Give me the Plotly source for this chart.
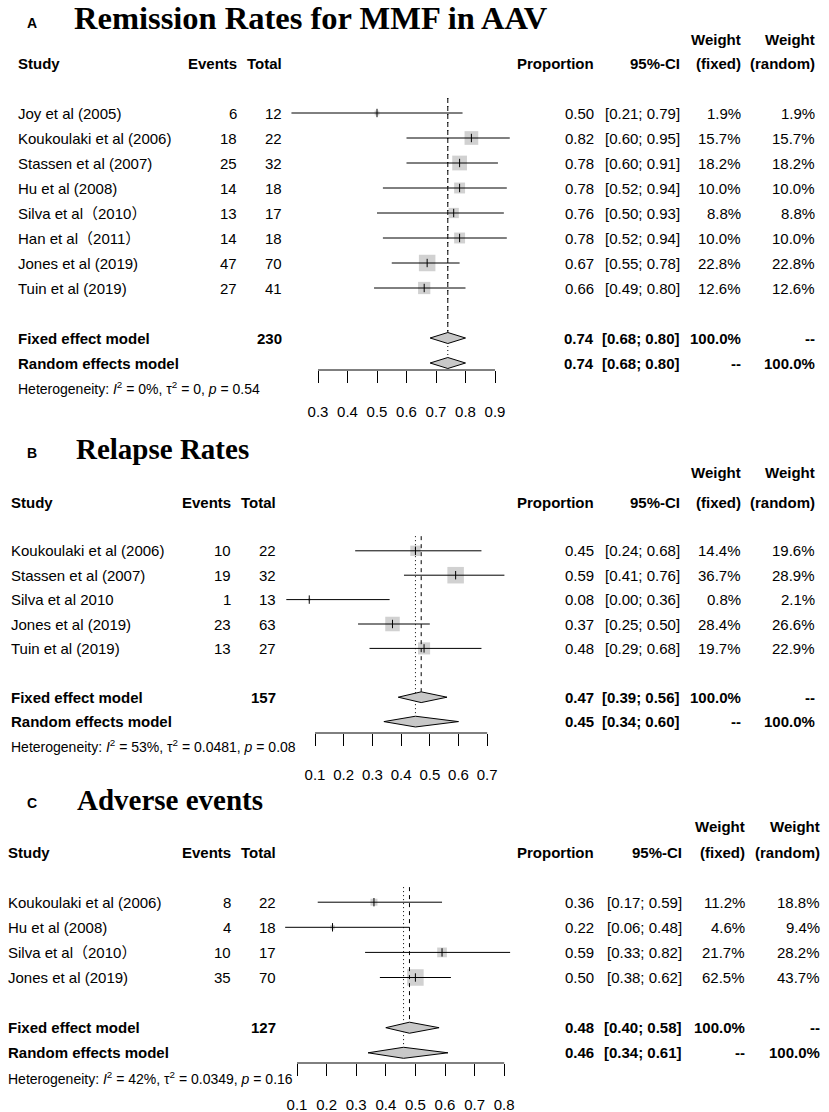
import plotly.graph_objects as go

# ---------------- data ----------------
A_title = "Remission Rates for MMF in AAV"
A_study = ["Joy et al (2005)", "Koukoulaki et al (2006)", "Stassen et al (2007)",
           "Hu et al (2008)", "Silva et al（2010）", "Han et al（2011）",
           "Jones et al (2019)", "Tuin et al (2019)"]
A_events = [6, 18, 25, 14, 13, 14, 47, 27]
A_total = [12, 22, 32, 18, 17, 18, 70, 41]
A_prop = [0.50, 0.82, 0.78, 0.78, 0.76, 0.78, 0.67, 0.66]
A_lower = [0.21, 0.60, 0.60, 0.52, 0.50, 0.52, 0.55, 0.49]
A_upper = [0.79, 0.95, 0.91, 0.94, 0.93, 0.94, 0.78, 0.80]
A_w_fixed = [1.9, 15.7, 18.2, 10.0, 8.8, 10.0, 22.8, 12.6]
A_w_random = [1.9, 15.7, 18.2, 10.0, 8.8, 10.0, 22.8, 12.6]
A_fixed = [0.74, 0.68, 0.80]
A_random = [0.74, 0.68, 0.80]
A_het = ["0%", "0", "0.54"]
A_ticks = [0.3, 0.4, 0.5, 0.6, 0.7, 0.8, 0.9]

B_title = "Relapse Rates"
B_study = ["Koukoulaki et al (2006)", "Stassen et al (2007)", "Silva et al 2010",
           "Jones et al (2019)", "Tuin et al (2019)"]
B_events = [10, 19, 1, 23, 13]
B_total = [22, 32, 13, 63, 27]
B_prop = [0.45, 0.59, 0.08, 0.37, 0.48]
B_lower = [0.24, 0.41, 0.00, 0.25, 0.29]
B_upper = [0.68, 0.76, 0.36, 0.50, 0.68]
B_w_fixed = [14.4, 36.7, 0.8, 28.4, 19.7]
B_w_random = [19.6, 28.9, 2.1, 26.6, 22.9]
B_fixed = [0.47, 0.39, 0.56]
B_random = [0.45, 0.34, 0.60]
B_het = ["53%", "0.0481", "0.08"]
B_ticks = [0.1, 0.2, 0.3, 0.4, 0.5, 0.6, 0.7]

C_title = "Adverse events"
C_study = ["Koukoulaki et al (2006)", "Hu et al (2008)", "Silva et al（2010）",
           "Jones et al (2019)"]
C_events = [8, 4, 10, 35]
C_total = [22, 18, 17, 70]
C_prop = [0.36, 0.22, 0.59, 0.50]
C_lower = [0.17, 0.06, 0.33, 0.38]
C_upper = [0.59, 0.48, 0.82, 0.62]
C_w_fixed = [11.2, 4.6, 21.7, 62.5]
C_w_random = [18.8, 9.4, 28.2, 43.7]
C_fixed = [0.48, 0.40, 0.58]
C_random = [0.46, 0.34, 0.61]
C_het = ["42%", "0.0349", "0.16"]
C_ticks = [0.1, 0.2, 0.3, 0.4, 0.5, 0.6, 0.7, 0.8]

# ---------------- style / layout ----------------
W, H = 829, 1112
FONT = "Liberation Sans, Arial, Noto Sans CJK SC, sans-serif"
SERIF = "Liberation Serif, Times New Roman, serif"
TXT = 15
HET = 14
BOX_MAX = 16.5
DIA_H = 0.22
SQ_COL = "#bebebe"
DIA_COL = "#c8c8c8"

panels = [
    dict(letter="A", title=A_title, study=A_study, events=A_events, total=A_total,
         prop=A_prop, lo=A_lower, hi=A_upper, wf=A_w_fixed, wr=A_w_random,
         fixed=A_fixed, random=A_random, het=A_het, ticks=A_ticks,
         title_x=73, title_mid=18.5, title_size=32.5, letter_y=23, weight_row=-0.95,
         header_px=63, pitch=25.0, axis_px=370, top_px=0, bottom_px=400,
         tick_p0=318, scale=295.0,
         cols=dict(study=17, events=238, total=283, prop=595, ci=681, wf=742, wr=816)),
    dict(letter="B", title=B_title, study=B_study, events=B_events, total=B_total,
         prop=B_prop, lo=B_lower, hi=B_upper, wf=B_w_fixed, wr=B_w_random,
         fixed=B_fixed, random=B_random, het=B_het, ticks=B_ticks,
         title_x=75, title_mid=448.5, title_size=29, letter_y=453, weight_row=-1.2,
         header_px=502, pitch=24.4, axis_px=733, top_px=420, bottom_px=765,
         tick_p0=315, scale=287.0,
         cols=dict(study=10, events=232, total=277, prop=595, ci=681, wf=742, wr=816)),
    dict(letter="C", title=C_title, study=C_study, events=C_events, total=C_total,
         prop=C_prop, lo=C_lower, hi=C_upper, wf=C_w_fixed, wr=C_w_random,
         fixed=C_fixed, random=C_random, het=C_het, ticks=C_ticks,
         title_x=76, title_mid=799.5, title_size=29, letter_y=803, weight_row=-1.0,
         header_px=852, pitch=25.1, axis_px=1063, top_px=775, bottom_px=1095,
         tick_p0=297, scale=296.0,
         cols=dict(study=7, events=232, total=277, prop=595, ci=683, wf=746, wr=821)),
]

fig = go.Figure()
annotations = []
shapes = []
axes = {}


def px_x(p):
    return p / W


def px_y(p):
    return 1 - p / H


for k, P in enumerate(panels):
    sfx = "" if k == 0 else str(k + 1)
    xa, ya = "x" + sfx, "y" + sfx
    n = len(P["study"])
    rows = [2 + i for i in range(n)]
    r_fixed = 2 + n + 1
    r_random = r_fixed + 1
    r_het = r_random + 1
    r_top_line = 1.4

    # axes
    d0, d1 = 265, 535
    v0 = P["ticks"][0]
    xr = [v0 + (d0 - P["tick_p0"]) / P["scale"], v0 + (d1 - P["tick_p0"]) / P["scale"]]
    yr = [(P["bottom_px"] - P["header_px"]) / P["pitch"], (P["top_px"] - P["header_px"]) / P["pitch"]]
    axes["xaxis" + sfx] = dict(domain=[px_x(d0), px_x(d1)], range=xr, anchor="free",
                               position=px_y(P["axis_px"]),
                               tickvals=P["ticks"], ticktext=[f"{t:.1f}" for t in P["ticks"]],
                               ticks="outside", ticklen=12, tickcolor="black", tickwidth=1,
                               showgrid=False, zeroline=False, showline=False,
                               tickfont=dict(family=FONT, size=15, color="black"),
                               ticklabelstandoff=16)
    axes["yaxis" + sfx] = dict(domain=[px_y(P["bottom_px"]), px_y(P["top_px"])], range=yr,
                               anchor=xa, visible=False)

    # squares
    wmax = max(P["wf"])
    sizes = [BOX_MAX * (w / wmax) ** 0.5 for w in P["wf"]]
    fig.add_trace(go.Scatter(x=P["prop"], y=rows, mode="markers", xaxis=xa, yaxis=ya,
                             marker=dict(symbol="square", size=sizes, color=SQ_COL,
                                         line=dict(width=0)),
                             hoverinfo="skip"))
    # CI lines
    cx, cy = [], []
    for lo, hi, r in zip(P["lo"], P["hi"], rows):
        cx += [lo, hi, None]
        cy += [r, r, None]
    fig.add_trace(go.Scatter(x=cx, y=cy, mode="lines", xaxis=xa, yaxis=ya,
                             line=dict(color="black", width=1), hoverinfo="skip"))
    # estimate ticks
    fig.add_trace(go.Scatter(x=P["prop"], y=rows, mode="markers", xaxis=xa, yaxis=ya,
                             marker=dict(symbol="line-ns", size=6,
                                         line=dict(color="black", width=1)),
                             hoverinfo="skip"))
    # vertical reference lines
    fig.add_trace(go.Scatter(x=[P["fixed"][0]] * 2, y=[r_top_line, r_fixed - DIA_H],
                             mode="lines", xaxis=xa, yaxis=ya,
                             line=dict(color="black", width=1, dash="4px,4px"),
                             hoverinfo="skip"))
    fig.add_trace(go.Scatter(x=[P["random"][0]] * 2, y=[r_top_line, r_random - DIA_H],
                             mode="lines", xaxis=xa, yaxis=ya,
                             line=dict(color="black", width=1, dash="1px,3px"),
                             hoverinfo="skip"))
    # diamonds
    for (est, lo, hi), r in ((P["fixed"], r_fixed), (P["random"], r_random)):
        fig.add_trace(go.Scatter(x=[lo, est, hi, est, lo], y=[r, r - DIA_H, r, r + DIA_H, r],
                                 mode="lines", fill="toself", fillcolor=DIA_COL,
                                 xaxis=xa, yaxis=ya,
                                 line=dict(color="black", width=1), hoverinfo="skip"))
    # axis line (spans first to last tick)
    shapes.append(dict(type="line", xref=xa, yref="paper",
                       x0=P["ticks"][0], x1=P["ticks"][-1],
                       y0=px_y(P["axis_px"]), y1=px_y(P["axis_px"]),
                       line=dict(color="black", width=1)))

    # text helper
    def T(xp, r, s, anchor="right", size=TXT):
        annotations.append(dict(x=px_x(xp), xref="paper", y=r, yref=ya, text=s,
                                showarrow=False, xanchor=anchor, yanchor="middle",
                                font=dict(family=FONT, size=size, color="black"),
                                borderpad=0))

    c = P["cols"]
    b = lambda s: f"<b>{s}</b>"
    # headers
    T(c["wf"], P["weight_row"], b("Weight"))
    T(c["wr"], P["weight_row"], b("Weight"))
    T(c["study"], 0, b("Study"), anchor="left")
    T(c["events"], 0, b("Events"))
    T(c["total"], 0, b("Total"))
    T(c["prop"], 0, b("Proportion"))
    T(c["ci"], 0, b("95%-CI"))
    T(c["wf"], 0, b("(fixed)"))
    T(c["wr"], 0, b("(random)"))
    # study rows
    for i, r in enumerate(rows):
        T(c["study"], r, P["study"][i], anchor="left")
        T(c["events"], r, str(P["events"][i]))
        T(c["total"], r, str(P["total"][i]))
        T(c["prop"], r, f"{P['prop'][i]:.2f}")
        T(c["ci"], r, f"[{P['lo'][i]:.2f}; {P['hi'][i]:.2f}]")
        T(c["wf"], r, f"{P['wf'][i]:.1f}%")
        T(c["wr"], r, f"{P['wr'][i]:.1f}%")
    # summary rows
    est, lo, hi = P["fixed"]
    T(c["study"], r_fixed, b("Fixed effect model"), anchor="left")
    T(c["total"], r_fixed, b(str(sum(P["total"]))))
    T(c["prop"], r_fixed, b(f"{est:.2f}"))
    T(c["ci"], r_fixed, b(f"[{lo:.2f}; {hi:.2f}]"))
    T(c["wf"], r_fixed, b("100.0%"))
    T(c["wr"], r_fixed, b("--"))
    est, lo, hi = P["random"]
    T(c["study"], r_random, b("Random effects model"), anchor="left")
    T(c["prop"], r_random, b(f"{est:.2f}"))
    T(c["ci"], r_random, b(f"[{lo:.2f}; {hi:.2f}]"))
    T(c["wf"], r_random, b("--"))
    T(c["wr"], r_random, b("100.0%"))
    i2, t2, pv = P["het"]
    T(c["study"], r_het,
      f"Heterogeneity: <i>I</i><sup>2</sup> = {i2}, τ<sup>2</sup> = {t2}, <i>p</i> = {pv}",
      anchor="left", size=HET)

    # panel letter and title
    annotations.append(dict(x=px_x(32), xref="paper", y=px_y(P["letter_y"]), yref="paper",
                            text=f"<b>{P['letter']}</b>", showarrow=False, xanchor="center",
                            yanchor="middle", borderpad=0,
                            font=dict(family="Liberation Sans, Arial, sans-serif", size=14,
                                      color="black")))
    annotations.append(dict(x=px_x(P["title_x"]), xref="paper",
                            y=px_y(P["title_mid"]), yref="paper",
                            text=f"<b>{P['title']}</b>", showarrow=False, xanchor="left",
                            yanchor="middle", borderpad=0,
                            font=dict(family=SERIF, size=P["title_size"], color="black")))

fig.update_layout(width=W, height=H, margin=dict(l=0, r=0, t=0, b=0),
                  paper_bgcolor="white", plot_bgcolor="white", showlegend=False,
                  annotations=annotations, shapes=shapes, **axes)

fig.write_html("out.html", config={"displayModeBar": False},
               post_script="document.body.style.margin='0';")
